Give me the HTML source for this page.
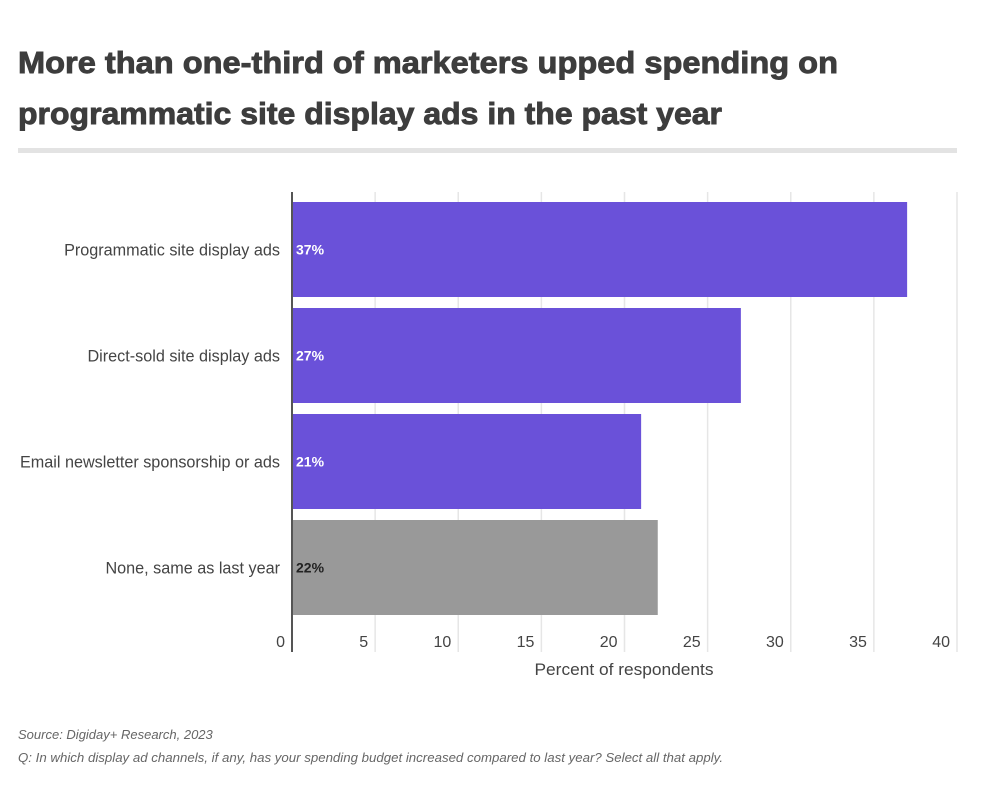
<!DOCTYPE html>
<html><head><meta charset="utf-8"><style>
body{margin:0;background:#fff;}
svg{display:block;font-family:"Liberation Sans",Arial,sans-serif;}
</style></head><body>
<svg id="chart" width="1000" height="800" viewBox="0 0 1000 800">
<text x="18" y="73" font-size="31" font-weight="bold" fill="#3d3d3d" stroke="#3d3d3d" stroke-width="0.9" textLength="820" lengthAdjust="spacingAndGlyphs">More than one-third of marketers upped spending on</text>
<text x="18" y="124" font-size="31" font-weight="bold" fill="#3d3d3d" stroke="#3d3d3d" stroke-width="0.9" textLength="704" lengthAdjust="spacingAndGlyphs">programmatic site display ads in the past year</text>
<rect x="18" y="148" width="939" height="5" fill="#e3e3e3"/>
<g id="grid"></g>
<g id="bars"></g>
<g id="ticks"></g>
<line x1="292" y1="192" x2="292" y2="652" stroke="#555" stroke-width="2"/>
<text x="624" y="675" font-size="17" fill="#444" text-anchor="middle" textLength="179" lengthAdjust="spacingAndGlyphs">Percent of respondents</text>
<text x="18" y="739" font-size="13" font-style="italic" fill="#666">Source: Digiday+ Research, 2023</text>
<text x="18" y="762" font-size="13" font-style="italic" fill="#666" textLength="705" lengthAdjust="spacingAndGlyphs">Q: In which display ad channels, if any, has your spending budget increased compared to last year? Select all that apply.</text>
</svg>
<script>
const categories = ["Programmatic site display ads","Direct-sold site display ads","Email newsletter sponsorship or ads","None, same as last year"];
const values = [37, 27, 21, 22];
const valueLabels = ["37%","27%","21%","22%"];
const barColors = ["#6a51d9","#6a51d9","#6a51d9","#999999"];
const tickValues = [0,5,10,15,20,25,30,35,40];

const NS = "http://www.w3.org/2000/svg";
const x0 = 292, x1 = 957, vmax = 40;
const xScale = v => x0 + (v / vmax) * (x1 - x0);
const bandTop = 202, bandStep = 106, barH = 95;
const yScale = i => bandTop + i * bandStep;
function mk(tag, attrs, parent, txt){
  const e = document.createElementNS(NS, tag);
  for (const k in attrs) e.setAttribute(k, attrs[k]);
  if (txt !== undefined) e.textContent = txt;
  parent.appendChild(e);
  return e;
}
const grid = document.getElementById('grid');
const bars = document.getElementById('bars');
const ticks = document.getElementById('ticks');
tickValues.forEach(t => {
  const x = xScale(t);
  if (t > 0) {
    const g = mk('line', {x1:x, y1:192, x2:x, y2:652, stroke:'#e6e6e6', 'stroke-width':1.5}, grid);
    
    
  }
  const tl = mk('text', {x:x - 7, y:647, 'font-size':16, fill:'#444', 'text-anchor':'end'}, ticks, String(t));
  
  
});
categories.forEach((c, i) => {
  const y = yScale(i);
  const r = mk('rect', {x:x0, y:y, width:xScale(values[i]) - x0, height:barH, fill:barColors[i]}, bars);
  
  
  const cl = mk('text', {x:280, y:y + barH/2 + 6, 'font-size':16.2, fill:'#444', 'text-anchor':'end'}, bars, c);
  
  
  const vl = mk('text', {x:x0 + 4, y:y + barH/2 + 5, 'font-size':14, 'font-weight':'bold', fill: i === 3 ? '#222' : '#fff'}, bars, valueLabels[i]);
  
  
});
</script>
</body></html>
